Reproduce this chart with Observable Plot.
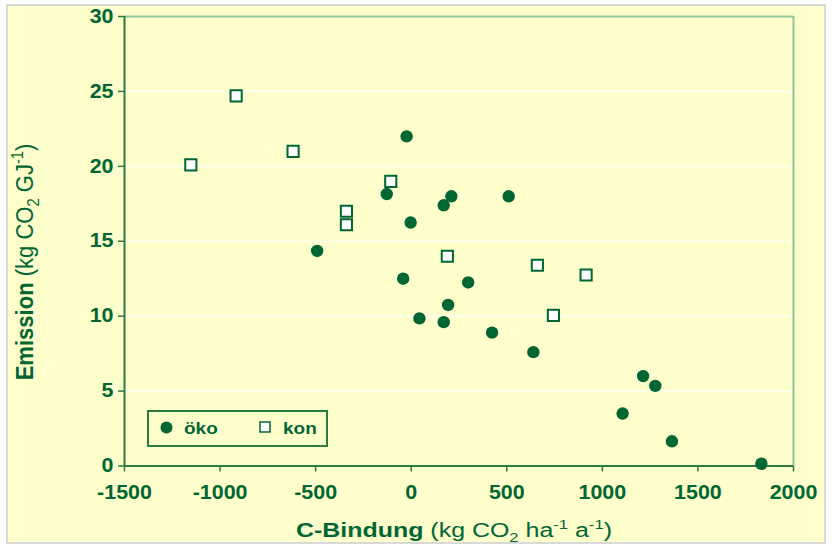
<!DOCTYPE html>
<html>
<head>
<meta charset="utf-8">
<script src="https://cdn.jsdelivr.net/npm/d3@7"></script>
<script src="https://cdn.jsdelivr.net/npm/@observablehq/plot@0.6"></script>
<style>
  html, body { margin: 0; padding: 0; background: #ffffff; }
  #wrap { position: relative; width: 832px; height: 546px; overflow: hidden; background: #ffffff; }
  #panel { position: absolute; left: 6px; top: 4px; width: 820px; height: 540px; box-sizing: border-box;
           border: 2px solid #d9d9d9; background: #FFFFCC; }
  #chart { position: absolute; left: 0; top: 0; }
</style>
</head>
<body>
<div id="wrap"><div id="panel"></div><div id="chart"></div></div>
<script>
// ---- data ----
const okoX = [-24, -128, -3, -492, -42, 170, 210, 510, 298, 193, 43, 170, 423, 639, 1213, 1277, 1106, 1364, 1832];
const okoY = [22.0, 18.15, 16.25, 14.35, 12.5, 17.4, 18.0, 18.0, 12.25, 10.75, 9.85, 9.6, 8.9, 7.6, 6.0, 5.35, 3.5, 1.65, 0.15];
const konX = [-1153, -916, -618, -339, -339, -107, 189, 660, 744, 915];
const konY = [20.1, 24.7, 21.0, 17.0, 16.1, 19.0, 14.0, 13.4, 10.05, 12.75];

const xTicks = [-1500, -1000, -500, 0, 500, 1000, 1500, 2000];
const xTickLabels = ["-1500", "-1000", "-500", "0", "500", "1000", "1500", "2000"];
const yTicks = [0, 5, 10, 15, 20, 25, 30];
const yTickLabels = ["0", "5", "10", "15", "20", "25", "30"];
const gridTicks = [5, 10, 15, 20, 25];
const legendLabels = ["öko", "kon"];

const oko = okoX.map((x, i) => ({x, y: okoY[i]}));
const kon = konX.map((x, i) => ({x, y: konY[i]}));

const dark = "#006633";
const axisCol = "#2b7a40";
const frameCol = "#8fc49a";

const chart = Plot.plot({
  width: 832,
  height: 546,
  marginLeft: 124,
  marginRight: 39,
  marginTop: 16,
  marginBottom: 80.5,
  x: {domain: [-1500, 2000]},
  y: {domain: [0, 30]},
  style: {
    background: "transparent",
    fontFamily: "'Liberation Sans', Arial, sans-serif",
    fontSize: "19.5px",
    fontWeight: "bold",
    color: dark,
    overflow: "visible"
  },
  marks: [
    Plot.gridY(gridTicks, {stroke: "#ffffff", strokeOpacity: 1, strokeWidth: 1.2}),
    Plot.ruleX([2000], {stroke: frameCol, strokeWidth: 2}),
    Plot.ruleY([30], {stroke: frameCol, strokeWidth: 2}),
    Plot.axisX({ticks: xTicks, tickSize: 6, tickPadding: 13, stroke: axisCol, strokeWidth: 1.5,
                tickFormat: d => xTickLabels[xTicks.indexOf(d)], label: null}),
    Plot.axisY({ticks: yTicks, tickSize: 6, tickPadding: 5, stroke: axisCol, strokeWidth: 1.5,
                tickFormat: d => yTickLabels[yTicks.indexOf(d)], label: null}),
    Plot.ruleX([-1500], {stroke: axisCol, strokeWidth: 2}),
    Plot.ruleY([0], {stroke: axisCol, strokeWidth: 2}),
    Plot.dot(kon, {x: "x", y: "y", symbol: "square", r: 6.3, fill: "#ffffff", stroke: dark, strokeWidth: 2}),
    Plot.dot(oko, {x: "x", y: "y", r: 6.2, fill: dark, stroke: "none"})
  ]
});
document.getElementById("chart").appendChild(chart);

const svg = d3.select(chart);

// slight horizontal widening of tick labels, as in the reference
svg.selectAll('g[aria-label="x-axis tick label"] text, g[aria-label="y-axis tick label"] text').each(function() {
  const t = this.getAttribute("transform");
  if (t) {
    this.setAttribute("transform", t + " scale(1.1,1)");
  } else {
    const x = this.getAttribute("x") || 0, y = this.getAttribute("y") || 0;
    this.removeAttribute("x"); this.removeAttribute("y");
    this.setAttribute("transform", `translate(${x},${y}) scale(1.1,1)`);
  }
});

// x-axis title
const xt = svg.append("text")
  .attr("transform", "translate(454,537) scale(1.28,1)")
  .attr("text-anchor", "middle")
  .attr("fill", dark)
  .style("font-family", "'Liberation Sans', Arial, sans-serif")
  .style("font-size", "19.5px")
  .style("font-weight", "normal");
xt.append("tspan").style("font-weight", "bold").text("C-Bindung");
xt.append("tspan").text(" (kg CO");
xt.append("tspan").attr("dy", 5).style("font-size", "13px").text("2");
xt.append("tspan").attr("dy", -5).text(" ha");
xt.append("tspan").attr("dy", -8).style("font-size", "13px").text("-1");
xt.append("tspan").attr("dy", 8).text(" a");
xt.append("tspan").attr("dy", -8).style("font-size", "13px").text("-1");
xt.append("tspan").attr("dy", 8).text(")");

// y-axis title
const yt = svg.append("text")
  .attr("transform", "translate(33,262) rotate(-90) scale(1.13,1.2)")
  .attr("text-anchor", "middle")
  .attr("fill", dark)
  .style("font-family", "'Liberation Sans', Arial, sans-serif")
  .style("font-size", "19.5px")
  .style("font-weight", "normal");
yt.append("tspan").style("font-weight", "bold").text("Emission");
yt.append("tspan").text(" (kg CO");
yt.append("tspan").attr("dy", 5).style("font-size", "13px").text("2");
yt.append("tspan").attr("dy", -5).text(" GJ");
yt.append("tspan").attr("dy", -8).style("font-size", "13px").text("-1");
yt.append("tspan").attr("dy", 8).text(")");

// legend box
const lg = svg.append("g").attr("text-anchor", "start");
lg.append("rect").attr("x", 148).attr("y", 411).attr("width", 179).attr("height", 35)
  .attr("fill", "none").attr("stroke", axisCol).attr("stroke-width", 2);
lg.append("circle").attr("cx", 166.5).attr("cy", 427.5).attr("r", 6).attr("fill", dark);
lg.append("text").attr("transform", "translate(184,433.5) scale(1.15,1)").attr("fill", dark)
  .attr("text-anchor", "start")
  .style("font-family", "'Liberation Sans', Arial, sans-serif").style("font-size", "16.5px").style("font-weight", "bold")
  .text(legendLabels[0]);
lg.append("rect").attr("x", 260).attr("y", 422).attr("width", 10).attr("height", 10)
  .attr("fill", "#ffffff").attr("stroke", dark).attr("stroke-width", 1.5);
lg.append("text").attr("transform", "translate(283,433.5) scale(1.15,1)").attr("fill", dark)
  .attr("text-anchor", "start")
  .style("font-family", "'Liberation Sans', Arial, sans-serif").style("font-size", "16.5px").style("font-weight", "bold")
  .text(legendLabels[1]);
</script>
</body>
</html>
